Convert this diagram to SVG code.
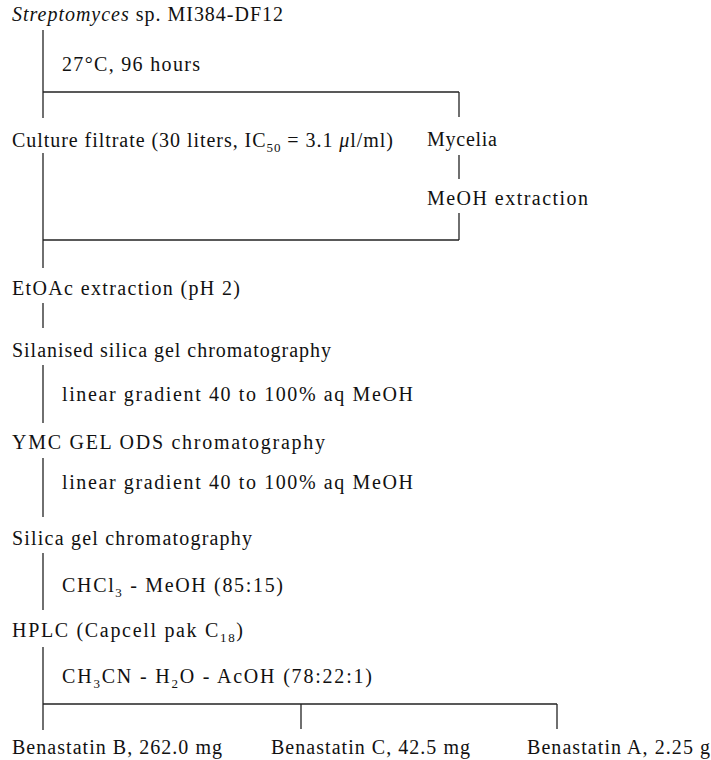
<svg xmlns="http://www.w3.org/2000/svg" width="711" height="760" viewBox="0 0 711 760">
<style>
text{font-family:"Liberation Serif","Times New Roman",serif;font-size:20px;fill:#111}
.sub{font-size:13px}
.it{font-style:italic}
.c line{stroke:#222;stroke-width:1.3;fill:none}
</style>
<rect width="711" height="760" fill="#fff"/>
<g class="c" id="connectors">
<line x1="43" y1="30" x2="43" y2="118"/>
<line x1="43" y1="92" x2="459" y2="92"/>
<line x1="459" y1="92" x2="459" y2="117"/>
<line x1="43" y1="153" x2="43" y2="268"/>
<line x1="459" y1="155" x2="459" y2="179"/>
<line x1="459" y1="213" x2="459" y2="240"/>
<line x1="43" y1="240" x2="459" y2="240"/>
<line x1="43" y1="303" x2="43" y2="328"/>
<line x1="43" y1="365" x2="43" y2="423"/>
<line x1="43" y1="458" x2="43" y2="517"/>
<line x1="43" y1="553" x2="43" y2="610"/>
<line x1="43" y1="647" x2="43" y2="730"/>
<line x1="43" y1="704" x2="557" y2="704"/>
<line x1="301" y1="704" x2="301" y2="729"/>
<line x1="557" y1="704" x2="557" y2="729"/>
</g>
<g id="strain"><text x="12" y="21" textLength="271" lengthAdjust="spacing"><tspan class="it">Streptomyces</tspan> sp. MI384-DF12</text></g>
<g id="cond1"><text x="62" y="71" textLength="138" lengthAdjust="spacing">27°C, 96 hours</text></g>
<g id="filtrate"><text x="12" y="147" textLength="381" lengthAdjust="spacing">Culture filtrate (30 liters, IC<tspan class="sub" dy="5">50</tspan><tspan dy="-5"> = 3.1 </tspan><tspan class="it">μ</tspan>l/ml)</text></g>
<g id="mycelia"><text x="427" y="146" textLength="70" lengthAdjust="spacing">Mycelia</text></g>
<g id="meoh"><text x="427" y="205" textLength="161" lengthAdjust="spacing">MeOH extraction</text></g>
<g id="etoac"><text x="12" y="295" textLength="228" lengthAdjust="spacing">EtOAc extraction (pH 2)</text></g>
<g id="silanised"><text x="12" y="357" textLength="319" lengthAdjust="spacing">Silanised silica gel chromatography</text></g>
<g id="cond2"><text x="62" y="401" textLength="351" lengthAdjust="spacing">linear gradient 40 to 100% aq MeOH</text></g>
<g id="ymc"><text x="12" y="449" textLength="313" lengthAdjust="spacing">YMC GEL ODS chromatography</text></g>
<g id="cond3"><text x="62" y="489" textLength="351" lengthAdjust="spacing">linear gradient 40 to 100% aq MeOH</text></g>
<g id="silica"><text x="12" y="545" textLength="240" lengthAdjust="spacing">Silica gel chromatography</text></g>
<g id="cond4"><text x="62" y="592" textLength="221" lengthAdjust="spacing">CHCl<tspan class="sub" dy="5">3</tspan><tspan dy="-5"> - MeOH (85:15)</tspan></text></g>
<g id="hplc"><text x="12" y="637" textLength="231" lengthAdjust="spacing">HPLC (Capcell pak C<tspan class="sub" dy="5">18</tspan><tspan dy="-5">)</tspan></text></g>
<g id="cond5"><text x="62" y="683" textLength="310" lengthAdjust="spacing">CH<tspan class="sub" dy="5">3</tspan><tspan dy="-5">CN - H</tspan><tspan class="sub" dy="5">2</tspan><tspan dy="-5">O - AcOH (78:22:1)</tspan></text></g>
<g id="benB"><text x="12" y="754" textLength="210" lengthAdjust="spacing">Benastatin B, 262.0 mg</text></g>
<g id="benC"><text x="271" y="754" textLength="199" lengthAdjust="spacing">Benastatin C, 42.5 mg</text></g>
<g id="benA"><text x="527" y="754" textLength="183" lengthAdjust="spacing">Benastatin A, 2.25 g</text></g>
</svg>
